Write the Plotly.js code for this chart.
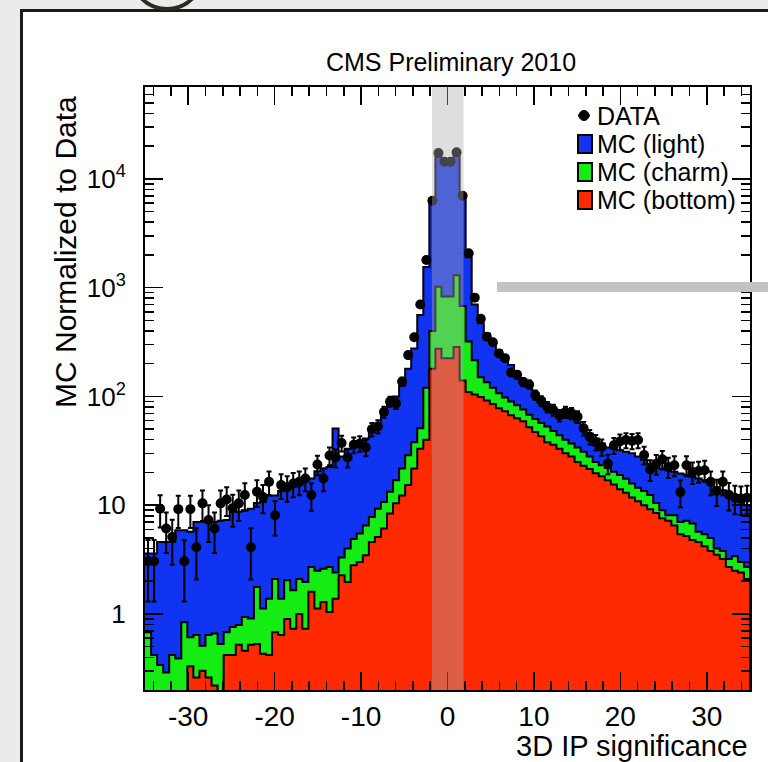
<!DOCTYPE html>
<html><head><meta charset="utf-8">
<script src="https://cdn.plot.ly/plotly-3.0.1.min.js"></script>
<style>html,body{margin:0;padding:0;background:#ebebeb;}#chart{width:768px;height:762px;}</style>
</head><body><div id="chart"></div>
<script>
// ---------------- data (100 bins from -35 to 35) ----------------
const xMin = -35, xMax = 35, nBins = 100;
const dataCounts = [
 3.05,3.05,9.3,6.1,5.1,9.2,3.05,9.2,4.1,10.4,
 7.3,6.1,10.4,11.3,9.4,10.4,12.4,4.1,13.3,11.9,
 16.4,8.1,15.3,14.6,15.8,16.4,17.6,12.4,23.7,17.6,
 28.6,27.5,37.3,27.5,36,36.9,34,50,53,72,
 90,86,137,240,350,700,1800,6300,17300,14400,
 14400,17600,7000,2070,810,518,354,315,248,225,
 166,158,136,129,103,91,80,75,67,72,
 70,65,51,42.5,38,34.4,24.2,35.6,38.5,39.7,
 39,39.7,29,21.3,24,26.4,22.5,23.3,13.2,23.3,
 20.2,20.6,21,16.4,13.5,16.4,12.5,11.7,11.5,11.7];
// stacked totals: light + charm + bottom
const mcTotal = [
 3.6,3.6,4.6,4.6,4.6,5.9,5.9,5.7,7.0,7.0,
 7.0,7.0,7.2,7.3,8.7,8.7,9.0,9.3,10.5,10.7,
 12.3,12.3,13.5,14.5,14.7,15.5,17.0,17.6,20.5,21.7,
 22.5,50.7,28,33,35,38,41,47,56,68,
 85,100,126,180,276,560,1550,6600,16000,14500,
 14500,16500,6800,1900,700,470,380,318,266,230,
 195,168,145,124,107,92,80,75,70,67,
 63,58,51,45.6,41,37,34,33,32,31,
 30,28,26,24,23.4,21.7,21,20.3,19.6,19.1,
 18.2,17.6,17,15.8,14.7,13.7,12.8,11.9,10.7,10];
// charm + bottom
const mcCharmBottom = [
 0.68,0.42,0.34,0.29,0.42,0.39,0.84,0.61,0.64,0.51,
 0.64,0.66,0.53,0.68,0.76,0.79,0.94,0.91,1.77,1.12,
 1.38,2.1,1.38,2.04,1.65,2.1,1.97,2.7,2.5,2.6,
 2.7,2.4,3.3,4.0,4.9,5.5,6.5,7.8,9.3,10.7,
 13.3,17,21.7,28.8,38,51,120,400,1020,830,
 830,1300,680,320,215,150,135,120,107,98,
 90,83,76,68,62,57,53,48,44,40,
 37,34,31,28,25,23.3,22,20.3,19,17.5,
 15.8,14.5,13.5,12.4,10.5,9.0,8.1,8.1,7.0,7.2,
 6.8,5.7,5.4,5.0,4.0,3.8,3.2,3.4,3.0,2.7];
// bottom only
const mcBottom = [
 0,0,0,0,0,0,0,0.33,0.26,0.3,
 0.26,0.22,0,0.42,0.42,0.52,0.46,0.52,0.53,0.43,
 0.42,0.68,0.64,0.9,0.73,1.0,0.73,1.6,1.12,1.29,
 1.04,1.38,2.27,1.97,2.8,3.0,3.46,4.6,5.1,6.1,
 8.4,10.4,12.3,15.3,21.7,33,40,180,275,225,
 225,285,140,110,104,99,92,85,78,73,
 67,63,59,52,47,43,38,36,33,30,
 28,25,23,21.5,19.7,18.5,17,15.5,14,13,
 11.8,10.9,10,9.2,8.5,7.6,7.2,6.5,5.4,5.2,
 4.8,4.6,4.2,3.8,3.5,3.2,2.7,2.5,2.4,2.1];
const xTickVals = [-30,-20,-10,0,10,20,30];
const xTickText = ['-30','-20','-10','0','10','20','30'];
const yTickVals = [1,10,100,1000,10000];
const yTickText = ['1','10','10<sup>2</sup>','10<sup>3</sup>','10<sup>4</sup>'];
const legendLabels = ['DATA','MC (light)','MC (charm)','MC (bottom)'];
const titleText = 'CMS Preliminary 2010';
const xTitle = '3D IP significance';
const yTitle = 'MC Normalized to Data';
const bandRange = [-1.8, 1.85];

// ---------------- styling / geometry ----------------
const colLight = '#1034f2', colCharm = '#14ec14', colBottom = '#ff2a00';
const FONT = 'Liberation Sans, Arial, Helvetica, sans-serif';
const L = 145, R = 750, T = 87, B = 690;
const px = x => (x - L) / (R - L);
const py = y => (B - y) / (B - T);

const binW = (xMax - xMin) / nBins;
const edges = Array.from({length: nBins + 1}, (_, k) => xMin + k * binW);
const centers = Array.from({length: nBins}, (_, k) => xMin + (k + 0.5) * binW);

function stepTrace(vals, color, name) {
  const floor = 1e-3;
  const xs = edges.slice();
  const ys = vals.map(v => v > 0 ? v : floor);
  ys.push(ys[ys.length - 1]);
  xs.push(xMax, xMin); ys.push(floor, floor);
  return {type: 'scatter', mode: 'lines', x: xs, y: ys, name: name,
    line: {shape: 'hv', color: '#000', width: 2}, fill: 'toself', fillcolor: color,
    hoverinfo: 'skip', showlegend: false};
}

const traces = [
  stepTrace(mcTotal, colLight, legendLabels[1]),
  stepTrace(mcCharmBottom, colCharm, legendLabels[2]),
  stepTrace(mcBottom, colBottom, legendLabels[3]),
  {type: 'scatter', mode: 'markers', x: centers, y: dataCounts, name: legendLabels[0],
   marker: {color: '#000', size: 10},
   error_y: {type: 'sqrt', visible: true, color: '#000', thickness: 2, width: 2.5},
   showlegend: false}
];

// minor log ticks
const minorY = [];
for (let d = -1; d <= 4; d++) for (let m = 2; m <= 9; m++) {
  const v = m * Math.pow(10, d);
  if (v >= 0.2 && v <= 7e4) minorY.push(v);
}

const shapes = [
  {type: 'rect', xref: 'paper', yref: 'paper', x0: px(21.5), x1: px(800), y0: py(800), y1: py(10.5),
   fillcolor: '#ffffff', line: {color: '#1a1a1a', width: 3}, layer: 'below'},
  {type: 'circle', xref: 'paper', yref: 'paper', x0: px(131), x1: px(203), y0: py(9), y1: py(-63),
   fillcolor: 'rgba(0,0,0,0)', line: {color: '#2c2c24', width: 4}, layer: 'above'},
  {type: 'rect', xref: 'x', yref: 'paper', x0: bandRange[0], x1: bandRange[1], y0: 0, y1: 1,
   fillcolor: 'rgba(172,172,172,0.4)', line: {width: 0}, layer: 'above'},
  {type: 'rect', xref: 'paper', yref: 'paper', x0: px(497), x1: px(790), y0: py(292), y1: py(282),
   fillcolor: '#c3c3c3', line: {width: 0}, layer: 'above'},
  {type: 'line', xref: 'paper', yref: 'paper', x0: px(578), x1: px(590), y0: py(115.5), y1: py(115.5),
   line: {color: '#000', width: 2}, layer: 'above'},
  {type: 'circle', xref: 'paper', yref: 'paper', x0: px(579), x1: px(589), y0: py(120.5), y1: py(110.5),
   fillcolor: '#000', line: {color: '#000', width: 1}, layer: 'above'},
  {type: 'rect', xref: 'paper', yref: 'paper', x0: px(578), x1: px(592), y0: py(153), y1: py(135),
   fillcolor: colLight, line: {color: '#000', width: 2}, layer: 'above'},
  {type: 'rect', xref: 'paper', yref: 'paper', x0: px(578), x1: px(592), y0: py(181), y1: py(163),
   fillcolor: colCharm, line: {color: '#000', width: 2}, layer: 'above'},
  {type: 'rect', xref: 'paper', yref: 'paper', x0: px(578), x1: px(592), y0: py(209), y1: py(191),
   fillcolor: colBottom, line: {color: '#000', width: 2}, layer: 'above'}
];

const legendY = [116, 144, 172, 200];
const annotations = legendLabels.map((t, i) => ({
  text: t, xref: 'paper', yref: 'paper', x: px(595), y: py(legendY[i]),
  xanchor: 'left', yanchor: 'middle', showarrow: false, font: {size: 25, color: '#000'}
}));
annotations.push({text: yTitle, xref: 'paper', yref: 'paper', x: px(66), y: py(252),
  xanchor: 'center', yanchor: 'middle', textangle: -90, showarrow: false, font: {size: 30, color: '#000'}});
annotations.push({text: xTitle, xref: 'paper', yref: 'paper', x: 1, y: py(746),
  xanchor: 'right', yanchor: 'middle', showarrow: false, font: {size: 29, color: '#000'}});

const layout = {
  width: 768, height: 762,
  margin: {l: L, r: 768 - R, t: T, b: 762 - B, pad: 0},
  paper_bgcolor: '#ebebeb', plot_bgcolor: 'rgba(0,0,0,0)',
  font: {family: FONT, color: '#000'},
  showlegend: false,
  title: {text: titleText, x: 451 / 768, xanchor: 'center', y: 1 - 62 / 762, yanchor: 'middle',
          xref: 'container', yref: 'container', font: {size: 25, color: '#000'}},
  xaxis: {range: [xMin, xMax], tickmode: 'array', tickvals: xTickVals, ticktext: xTickText,
          ticks: 'inside', ticklen: 18, tickwidth: 1.5, tickcolor: '#000',
          showline: true, linecolor: '#000', linewidth: 2, mirror: 'allticks',
          showgrid: false, zeroline: false, tickfont: {size: 28}, ticklabelstandoff: 0,
          minor: {tickmode: 'linear', tick0: 0, dtick: 2, ticks: 'inside', ticklen: 9, tickwidth: 1.5, tickcolor: '#000', showgrid: false}},
  yaxis: {type: 'log', range: [Math.log10(0.2), Math.log10(7e4)], tickmode: 'array',
          tickvals: yTickVals, ticktext: yTickText,
          ticks: 'inside', ticklen: 18, tickwidth: 1.5, tickcolor: '#000',
          showline: true, linecolor: '#000', linewidth: 2, mirror: 'allticks',
          showgrid: false, zeroline: false, tickfont: {size: 26}, ticklabelstandoff: 12,
          minor: {tickmode: 'array', tickvals: minorY, ticks: 'inside', ticklen: 9, tickwidth: 1.5, tickcolor: '#000', showgrid: false}},
  shapes: shapes,
  annotations: annotations
};

Plotly.newPlot('chart', traces, layout, {staticPlot: true, displayModeBar: false});
</script>
</body></html>
